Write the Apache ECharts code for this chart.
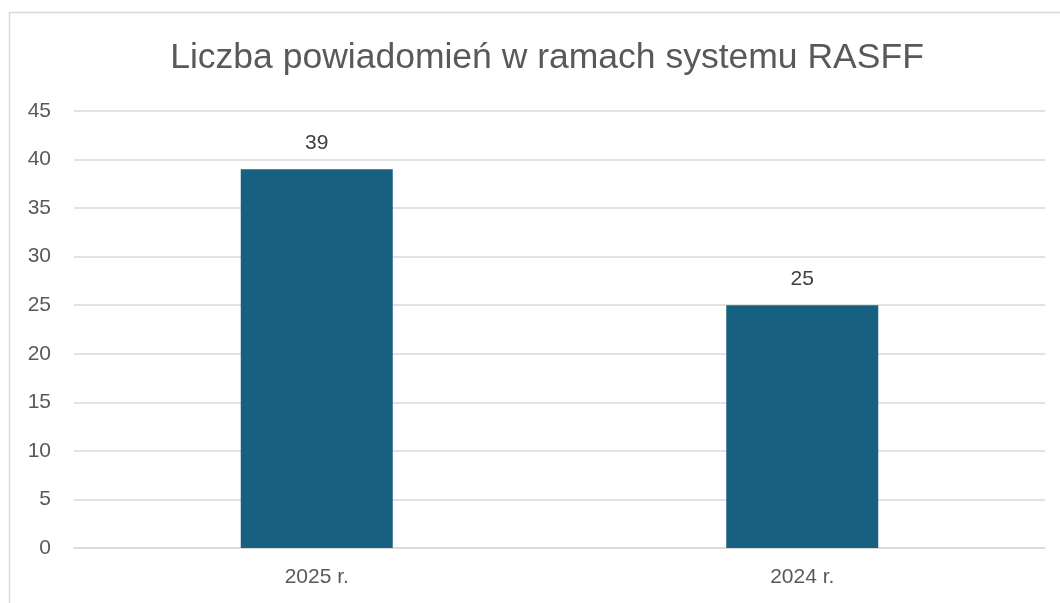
<!DOCTYPE html>
<html lang="pl">
<head>
<meta charset="UTF-8">
<title>RASFF</title>
<script src="https://cdn.jsdelivr.net/npm/echarts@6/dist/echarts.min.js"></script>
<style>
  html, body { margin: 0; padding: 0; background: #fff; }
  #main { width: 1060px; height: 603px; }
</style>
</head>
<body>
<div id="main"></div>
<script>
  // dane wykresu
  var kategorie = ['2025 r.', '2024 r.'];
  var wartosci = [39, 25];
  var tytul = 'Liczba powiadomień w ramach systemu RASFF';

  var myChart = echarts.init(document.getElementById('main'));
  var szary = '#595959';
  var font = 'Liberation Sans';

  var option = {
    animation: false,
    backgroundColor: '#fff',
    title: {
      text: tytul,
      left: 542,
      textAlign: 'center',
      top: 35,
      textStyle: { fontFamily: font, fontSize: 35.5, fontWeight: 'normal', color: szary }
    },
    graphic: [{
      type: 'rect',
      shape: { x: 9.5, y: 12.5, width: 2000, height: 2000 },
      style: { fill: 'none', stroke: '#D9D9D9', lineWidth: 1.5 },
      silent: true
    }],
    grid: { left: 74, right: 15, top: 111, bottom: 55 },
    xAxis: {
      type: 'category',
      data: kategorie,
      axisLine: { lineStyle: { color: '#D9D9D9', width: 1.5 } },
      axisTick: { show: false },
      axisLabel: { color: szary, fontSize: 21, fontFamily: font, margin: 19 }
    },
    yAxis: {
      type: 'value',
      min: 0, max: 45, interval: 5,
      axisLine: { show: false },
      axisTick: { show: false },
      splitLine: { lineStyle: { color: '#D9D9D9', width: 1.5 } },
      axisLabel: { color: szary, fontSize: 21, fontFamily: font, margin: 23 }
    },
    series: [{
      type: 'bar',
      data: wartosci,
      barWidth: 152,
      itemStyle: { color: '#17607F' },
      label: {
        show: true, position: 'top', distance: 16,
        color: '#404040', fontSize: 21, fontFamily: font
      }
    }]
  };
  myChart.setOption(option);
</script>
</body>
</html>
